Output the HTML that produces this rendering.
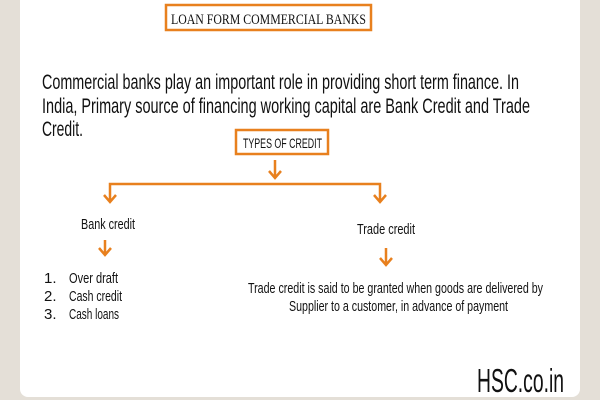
<!DOCTYPE html>
<html><head><meta charset="utf-8"><style>
html,body{margin:0;padding:0;width:600px;height:400px;overflow:hidden;background:#e4dfd7;}
</style></head><body>
<svg width="600" height="400" xmlns="http://www.w3.org/2000/svg" style="display:block">
<rect x="20" y="-10" width="560" height="407" rx="8" fill="#fff"/>
<g fill="none" stroke="#e8801e" stroke-width="2.5">
<rect x="166" y="5" width="205" height="25"/>
<rect x="236" y="130" width="92" height="24"/>
<path d="M275 160V177M269 171l6 7 6-7"/>
<path d="M110 202V184H380V202M104 195l6 7 6-7M374 195l6 7 6-7"/>
<path d="M105 240V254M99 248l6 7 6-7"/>
<path d="M386 248V264M380 258l6 7 6-7"/>
</g>
<g font-family="'Liberation Sans Narrow','Liberation Sans',sans-serif" fill="#111">
<text x="171" y="24" font-family="'Liberation Serif',serif" font-size="15" textLength="195" lengthAdjust="spacingAndGlyphs">LOAN FORM COMMERCIAL BANKS</text>
<text x="42" y="89" font-size="21" textLength="477" lengthAdjust="spacingAndGlyphs">Commercial banks play an important role in providing short term finance. In</text>
<text x="42" y="113" font-size="21" textLength="488" lengthAdjust="spacingAndGlyphs">India,  Primary source of financing  working capital are Bank Credit and Trade</text>
<text x="42" y="136" font-size="21" textLength="41" lengthAdjust="spacingAndGlyphs">Credit.</text>
<text x="243" y="148" font-size="14" textLength="79" lengthAdjust="spacingAndGlyphs">TYPES OF CREDIT</text>
<text x="81" y="229" font-size="15" textLength="54" lengthAdjust="spacingAndGlyphs">Bank credit</text>
<text x="357" y="234" font-size="15" textLength="58" lengthAdjust="spacingAndGlyphs">Trade credit</text>
<g font-size="15">
<text x="44" y="283">1.</text><text x="69" y="283" textLength="49" lengthAdjust="spacingAndGlyphs">Over draft</text>
<text x="44" y="301">2.</text><text x="69" y="301" textLength="53" lengthAdjust="spacingAndGlyphs">Cash credit</text>
<text x="44" y="319">3.</text><text x="69" y="319" textLength="50" lengthAdjust="spacingAndGlyphs">Cash loans</text>
<text x="248" y="293" textLength="295" lengthAdjust="spacingAndGlyphs">Trade credit is said to be granted when goods are delivered by</text>
<text x="289" y="311" textLength="219" lengthAdjust="spacingAndGlyphs">Supplier to a customer, in advance of payment</text>
</g>
<text x="477" y="392" font-size="33" textLength="87" lengthAdjust="spacingAndGlyphs">HSC.co.in</text>
</g>
</svg>
</body></html>
